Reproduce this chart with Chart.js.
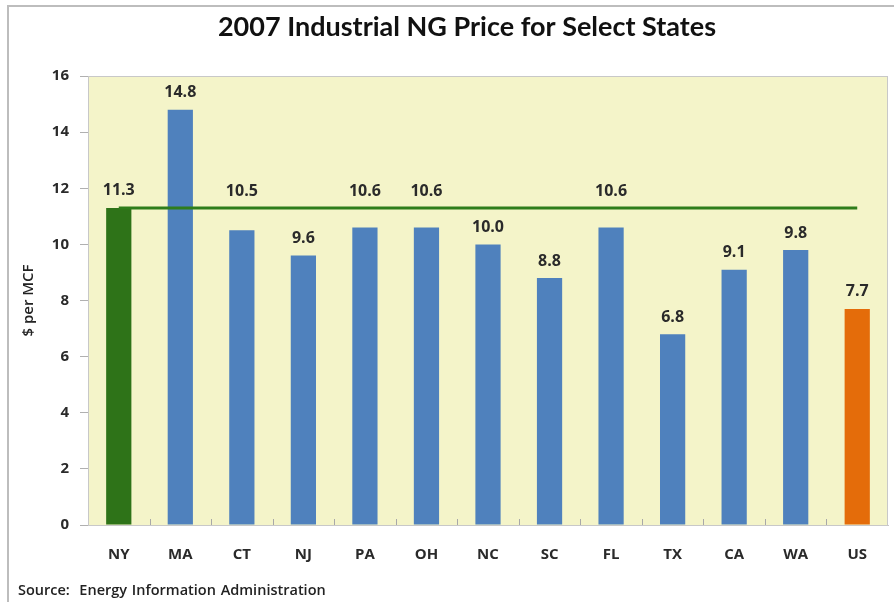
<!DOCTYPE html>
<html>
<head>
<meta charset="utf-8">
<script src="https://cdn.jsdelivr.net/npm/chart.js@4/dist/chart.umd.min.js"></script>
<style>
  body { margin: 0; background: #fff; }
  #wrap { position: relative; width: 894px; height: 602px; overflow: hidden; }
  #frame { position: absolute; left: 7px; top: 5px; width: 900px; height: 610px; border-left: 2px solid #bdbdbd; border-top: 2px solid #bdbdbd; }
  #src { position: absolute; left: 18px; top: 580px; font: 600 14.5px "Open Sans", sans-serif; color: #222; word-spacing: 1px; }
  canvas { position: absolute; left: 0; top: 0; }
</style>
</head>
<body>
<div id="wrap">
  <div id="frame"></div>
  <canvas id="grafico" width="894" height="602"></canvas>
  <div id="src">Source:&nbsp; Energy Information Administration</div>
</div>
<script>
const estados = ['NY', 'MA', 'CT', 'NJ', 'PA', 'OH', 'NC', 'SC', 'FL', 'TX', 'CA', 'WA', 'US'];
const precos = [11.3, 14.8, 10.5, 9.6, 10.6, 10.6, 10.0, 8.8, 10.6, 6.8, 9.1, 9.8, 7.7];
const linhaNY = [11.3, 11.3, 11.3, 11.3, 11.3, 11.3, 11.3, 11.3, 11.3, 11.3, 11.3, 11.3, 11.3];
const coresBarras = ['#2E7318', '#4F81BD', '#4F81BD', '#4F81BD', '#4F81BD', '#4F81BD', '#4F81BD',
                     '#4F81BD', '#4F81BD', '#4F81BD', '#4F81BD', '#4F81BD', '#E46C0A'];
const titulo = '2007 Industrial NG Price for Select States';

// fundo amarelo + borda da area do grafico + titulo
const fundo = {
    id: 'fundo',
    beforeDraw(chart) {
        const a = chart.chartArea, ctx = chart.ctx;
        ctx.save();
        ctx.fillStyle = '#F4F4C9';
        ctx.fillRect(a.left, a.top, a.width, a.height);
        ctx.strokeStyle = '#c8c8c8';
        ctx.lineWidth = 1;
        ctx.strokeRect(a.left + 0.5, a.top + 0.5, a.width - 1, a.height);
        ctx.font = 'bold 27px Lato';
        ctx.fillStyle = '#111';
        ctx.textAlign = 'center';
        ctx.textBaseline = 'middle';
        ctx.fillText(titulo, 467, 27);
        ctx.restore();
    },
    afterDraw(chart) {
        // pequenos tracos entre categorias, para dentro
        const a = chart.chartArea, ctx = chart.ctx, x = chart.scales.x;
        ctx.save();
        ctx.strokeStyle = '#a8a8a8';
        ctx.lineWidth = 1;
        for (let i = 1; i < estados.length; i++) {
            const px = Math.round((x.getPixelForTick(i - 1) + x.getPixelForTick(i)) / 2) + 0.5;
            ctx.beginPath();
            ctx.moveTo(px, a.bottom);
            ctx.lineTo(px, a.bottom - 6);
            ctx.stroke();
        }
        ctx.restore();
    }
};

// rotulos de valor, empurrados para cima da linha quando encostam nela
const rotulos = {
    id: 'rotulos',
    afterDatasetsDraw(chart) {
        const ctx = chart.ctx;
        const barras = chart.getDatasetMeta(1).data;
        const linha = chart.getDatasetMeta(0).data;
        ctx.save();
        ctx.font = 'bold 16px "Open Sans", sans-serif';
        ctx.fillStyle = '#2a2a2a';
        ctx.textAlign = 'center';
        ctx.textBaseline = 'middle';
        barras.forEach((b, i) => {
            let y = b.y - 17;
            const ly = linha[i].y;
            if (Math.abs(y - ly) < 15) y = ly - 16;
            ctx.fillText(precos[i].toFixed(1), b.x, y);
        });
        ctx.restore();
    }
};

const ctx = document.getElementById('grafico').getContext('2d');
const grafico = new Chart(ctx, {
    type: 'bar',
    data: {
        labels: estados,
        datasets: [{
            type: 'line',
            data: linhaNY,
            borderColor: '#2E7D1B',
            borderWidth: 3,
            pointRadius: 0,
            order: 0
        }, {
            data: precos,
            backgroundColor: coresBarras,
            barPercentage: 0.41,
            categoryPercentage: 1,
            order: 1
        }]
    },
    options: {
        responsive: false,
        animation: false,
        layout: { padding: { left: 0, right: 6, top: 76, bottom: 0 } },
        plugins: {
            legend: { display: false },
            tooltip: { enabled: false },
            title: { display: false }
        },
        scales: {
            x: {
                grid: { display: false, drawTicks: false },
                border: { color: '#c8c8c8' },
                ticks: { color: '#2a2a2a', padding: 21, font: { family: 'Open Sans', size: 15, weight: 'bold' } },
                afterFit(s) { s.height = 77; }
            },
            y: {
                min: 0, max: 16,
                ticks: { stepSize: 2, color: '#2a2a2a', padding: 11, font: { family: 'Open Sans', size: 15, weight: 'bold' } },
                grid: { drawOnChartArea: false, tickLength: 8, color: '#b0b0b0' },
                border: { color: '#c8c8c8' },
                title: {
                    display: true,
                    text: '$ per MCF',
                    color: '#222',
                    padding: { top: 20, bottom: 0 },
                    font: { family: 'Open Sans', size: 15, weight: '600' }
                },
                afterFit(s) { s.width = 88; }
            }
        }
    },
    plugins: [fundo, rotulos]
});
</script>
</body>
</html>
